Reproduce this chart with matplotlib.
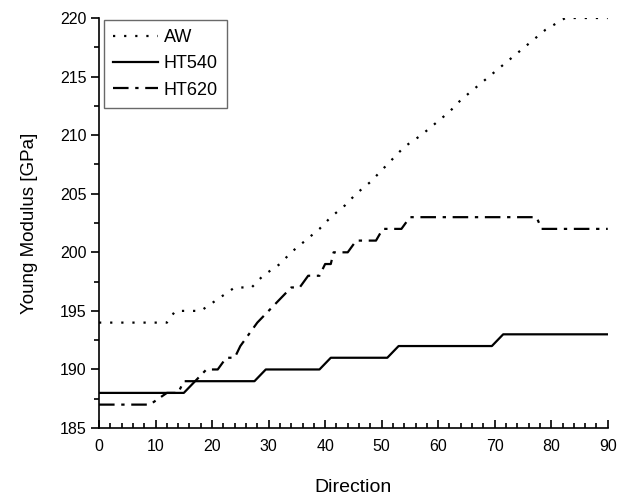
import numpy as np
import matplotlib
matplotlib.use('Agg')
import matplotlib.pyplot as plt
from matplotlib.ticker import MultipleLocator

plt.rcParams['font.family'] = ['Liberation Sans', 'DejaVu Sans']

# AW - as welded
aw_x = [0, 12, 13.5, 18, 21, 24, 27, 29, 32, 34, 36.5, 39, 41, 43.5, 45.5, 48, 50, 52, 54,
        57, 59.5, 62, 64, 66.5, 69, 71.5, 74, 76.5, 79, 82.5, 90]
aw_y = [194, 194, 195, 195, 196, 197, 197, 198, 199, 200, 201, 202, 203, 204, 205, 206, 207, 208, 209,
        210, 211, 212, 213, 214, 215, 216, 217, 218, 219, 220, 220]

# HT540
ht540_x = [0, 15, 17, 27.5, 29.5, 39, 41, 51, 53, 69.5, 71.5, 90]
ht540_y = [188, 188, 189, 189, 190, 190, 191, 191, 192, 192, 193, 193]

# HT620
ht620_x = [0, 9, 12, 14, 15, 17, 19, 21, 22.5, 24, 25, 26.5, 28, 30, 32, 34, 35.5, 37, 39, 40, 41,
           41.5, 44, 45.5, 49, 50.2, 53.5, 55, 77.4, 78.3, 90]
ht620_y = [187, 187, 188, 188, 189, 189, 190, 190, 191, 191, 192, 193, 194, 195, 196, 197, 197, 198, 198, 199, 199,
           200, 200, 201, 201, 202, 202, 203, 203, 202, 202]

fig = plt.figure(figsize=(6.17, 4.96), dpi=100)
ax = fig.add_axes([0.1605, 0.137, 0.8245, 0.8267])

ax.plot(aw_x, aw_y, color='black', lw=1.6, linestyle=(0, (1, 4)), label='AW')
ax.plot(ht540_x, ht540_y, color='black', lw=1.6, linestyle='-', label='HT540')
ax.plot(ht620_x, ht620_y, color='black', lw=1.6, linestyle=(0, (7, 3, 1.5, 3)), label='HT620')

ax.set_xlim(0, 90)
ax.set_ylim(185, 220)
ax.xaxis.set_major_locator(MultipleLocator(10))
ax.xaxis.set_minor_locator(MultipleLocator(2))
ax.yaxis.set_major_locator(MultipleLocator(5))
ax.yaxis.set_minor_locator(MultipleLocator(2.5))
ax.tick_params(axis='x', which='major', direction='in', length=6, width=1.2, labelsize=11.5, pad=8)
ax.tick_params(axis='x', which='minor', direction='in', length=3.5, width=1.2)
ax.tick_params(axis='y', which='major', direction='out', length=6, width=1.2, labelsize=11.5, pad=3)
ax.tick_params(axis='y', which='minor', direction='out', length=3.5, width=1.2)
ax.spines['top'].set_visible(False)
ax.spines['right'].set_visible(False)
ax.spines['left'].set_linewidth(1.2)
ax.spines['bottom'].set_linewidth(1.2)

ax.set_xlabel('Direction', fontsize=14, labelpad=18)
ax.set_ylabel('Young Modulus [GPa]', fontsize=13.5, labelpad=16)

leg = ax.legend(loc='upper left', bbox_to_anchor=(0.006, 1.0), fontsize=13, handlelength=2.5,
                frameon=True, fancybox=False, borderpad=0.5, labelspacing=0.52, handletextpad=0.3,
                borderaxespad=0.1)
leg.get_frame().set_edgecolor('#444444')
leg.get_frame().set_linewidth(1.0)

fig.savefig('out.png', dpi=100)
